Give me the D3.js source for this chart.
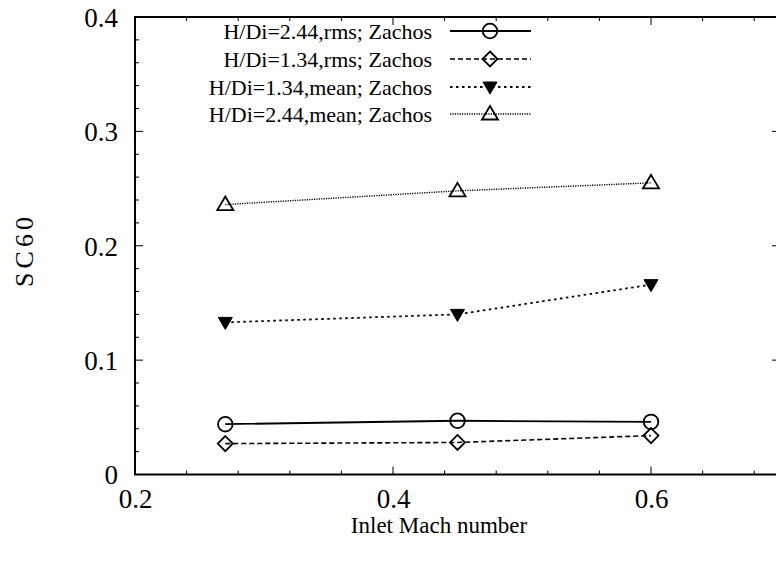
<!DOCTYPE html>
<html><head><meta charset="utf-8">
<script src="https://cdn.jsdelivr.net/npm/d3@7"></script>
<style>body{margin:0;background:#fff}svg{display:block}text{font-family:"Liberation Serif","Times New Roman",serif;fill:#000}</style>
</head><body><div id="chart"></div>
<script>
const machNumbers = [0.27, 0.45, 0.6];
const rms244 = [0.044, 0.047, 0.046];
const rms134 = [0.027, 0.028, 0.034];
const mean134 = [0.133, 0.140, 0.166];
const mean244 = [0.236, 0.248, 0.255];
const seriesNames = ["H/Di=2.44,rms; Zachos","H/Di=1.34,rms; Zachos","H/Di=1.34,mean; Zachos","H/Di=2.44,mean; Zachos"];
const xTicks = [0.2, 0.4, 0.6];
const yTicks = [0, 0.1, 0.2, 0.3, 0.4];

const W = 776, H = 561;
const m = {left:135, top:17, right:780, bottom:474.5};
const svg = d3.select("#chart").append("svg").attr("width",W).attr("height",H);
const x = d3.scaleLinear().domain([0.2,0.7]).range([m.left,m.right]);
const y = d3.scaleLinear().domain([0,0.4]).range([m.bottom,m.top]);

const series = [
  {name:seriesNames[0], vals:rms244, dash:null, sw:1.8, marker:"circle"},
  {name:seriesNames[1], vals:rms134, dash:"5,3", sw:1.6, marker:"diamond"},
  {name:seriesNames[2], vals:mean134, dash:"2.5,3.5", sw:1.8, marker:"tridown"},
  {name:seriesNames[3], vals:mean244, dash:"1.2,1.2", sw:1.4, marker:"triup"}
];

// frame & ticks
const xMinor = d3.range(0.2, 0.7001, 0.04).map(v=>+v.toFixed(2));
const yMinor = d3.range(0, 0.4001, 0.02).map(v=>+v.toFixed(2));
const g = svg.append("g");
function isMajor(v, arr){return arr.some(t=>Math.abs(t-v)<1e-6);}
const xMajorAll = [0.2,0.4,0.6];
xMinor.forEach(v=>{
  const L = isMajor(v,xMajorAll)?8:4;
  g.append("line").attr("x1",x(v)).attr("x2",x(v)).attr("y1",m.bottom).attr("y2",m.bottom-L).attr("stroke","#000").attr("stroke-width",1);
  g.append("line").attr("x1",x(v)).attr("x2",x(v)).attr("y1",m.top).attr("y2",m.top+L).attr("stroke","#000").attr("stroke-width",1);
});
yMinor.forEach(v=>{
  const L = isMajor(v,yTicks)?8:4;
  g.append("line").attr("x1",m.left).attr("x2",m.left+L).attr("y1",y(v)).attr("y2",y(v)).attr("stroke","#000").attr("stroke-width",1);
  g.append("line").attr("x1",m.right).attr("x2",m.right-L).attr("y1",y(v)).attr("y2",y(v)).attr("stroke","#000").attr("stroke-width",1);
});
g.append("rect").attr("x",m.left).attr("y",m.top).attr("width",m.right-m.left).attr("height",m.bottom-m.top)
  .attr("fill","none").attr("stroke","#000").attr("stroke-width",2);

// tick labels via axes
const xAxis = d3.axisBottom(x).tickValues(xTicks).tickFormat(d3.format(".1f")).tickSize(0).tickPadding(0);
const xa = svg.append("g").attr("transform",`translate(0,${m.bottom})`).call(xAxis);
xa.select(".domain").remove();
xa.selectAll("text").attr("font-size",27).attr("dy",null).attr("y",33).style("font-family","'Liberation Serif',serif").attr("fill","#000");
const yAxis = d3.axisLeft(y).tickValues(yTicks).tickFormat(d=>d===0?"0":d3.format(".1f")(d)).tickSize(0).tickPadding(0);
const ya = svg.append("g").attr("transform",`translate(${m.left},0)`).call(yAxis);
ya.select(".domain").remove();
ya.selectAll("text").attr("font-size",27).attr("x",-17).attr("dy","0.35em").style("font-family","'Liberation Serif',serif").attr("fill","#000");

svg.append("text").attr("x",439).attr("y",533).attr("text-anchor","middle").attr("font-size",23).text("Inlet Mach number");
svg.append("text").attr("transform","translate(33,250) rotate(-90)").attr("text-anchor","middle").attr("font-size",26).attr("letter-spacing",4).text("SC60");

function drawMarker(sel, type, cx, cy){
  if(type==="circle") sel.append("circle").attr("cx",cx).attr("cy",cy).attr("r",7.3).attr("fill","none").attr("stroke","#000").attr("stroke-width",1.8);
  else if(type==="diamond") sel.append("path").attr("d",`M${cx},${cy-7.5}L${cx+7.5},${cy}L${cx},${cy+7.5}L${cx-7.5},${cy}Z`).attr("fill","none").attr("stroke","#000").attr("stroke-width",1.8);
  else if(type==="triup") sel.append("path").attr("d",`M${cx},${cy-8}L${cx+8},${cy+5.5}L${cx-8},${cy+5.5}Z`).attr("fill","none").attr("stroke","#000").attr("stroke-width",1.8);
  else if(type==="tridown") sel.append("path").attr("d",`M${cx-7},${cy-5}L${cx+7},${cy-5}L${cx},${cy+7}Z`).attr("fill","#000").attr("stroke","#000").attr("stroke-width",1);
}

const line = d3.line().x((d,i)=>x(machNumbers[i])).y(d=>y(d));
series.forEach(s=>{
  svg.append("path").attr("d",line(s.vals)).attr("fill","none").attr("stroke","#000").attr("stroke-width",s.sw)
    .attr("stroke-dasharray",s.dash);
  const mg = svg.append("g");
  s.vals.forEach((v,i)=>drawMarker(mg,s.marker,x(machNumbers[i]),y(v)));
});

// legend
const legY = [31, 59, 87, 114];
series.forEach((s,i)=>{
  const ly = legY[i];
  svg.append("text").attr("x",432).attr("y",ly).attr("dy","0.35em").attr("text-anchor","end").attr("font-size",22).text(s.name);
  svg.append("line").attr("x1",450).attr("x2",531).attr("y1",ly).attr("y2",ly).attr("stroke","#000").attr("stroke-width",s.sw).attr("stroke-dasharray",s.dash);
  drawMarker(svg, s.marker, 490, ly);
});
</script></body></html>
